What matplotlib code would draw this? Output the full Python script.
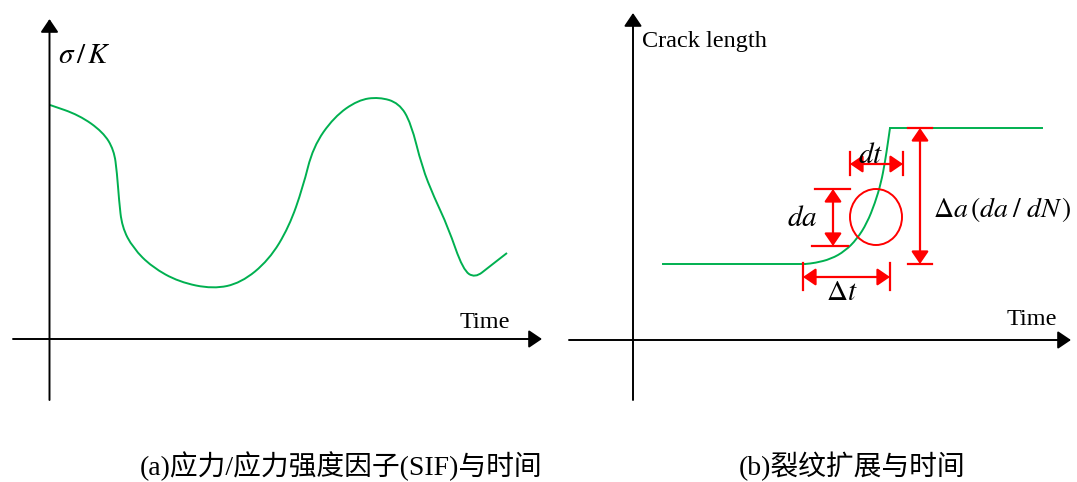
import numpy as np
import matplotlib
matplotlib.use("Agg")
import matplotlib.pyplot as plt
from matplotlib.path import Path
from matplotlib.patches import PathPatch, Ellipse

plt.rcParams['mathtext.fontset'] = 'stix'

# ---------------- data ----------------
# panel (a): stress / SIF vs time (schematic)
time_a = [0.5, 29.5, 53.5, 64.5, 67.5, 69.5, 72.5, 83.5, 102.5, 129.5, 163.5, 191.5,
          219.5, 239.5, 253.5, 263.5, 284.5, 308.5, 329.5, 349.5, 361.5, 372.5, 384.5,
          398.5, 413.5, 425.5, 439.5, 457.5]
sigma_a = [234, 224, 207, 189, 166, 139, 112, 91, 72, 57, 50, 56,
           79, 112, 152, 192, 222, 239, 242, 236, 216, 172, 142,
           112, 69, 61, 72, 86]

# panel (b): crack length vs time (schematic)
low_time = [30, 172]
low_len = 76
rise_time = [172, 182, 198, 212, 224, 234, 242, 248, 252, 255, 257]
rise_len = [76, 77, 81, 89, 101, 117, 137, 157, 178, 198, 212]
high_time = [257, 409]
high_len = 212

# annotation markers in panel (b)
dt_span = [217, 270]
dt_level = 176
da_span = [94, 151]
da_pos = 200
Dt_span = [170, 257]
Dt_level = 63
Da_span = [76, 212]
Da_pos = 287
circle_center = (243, 123)

captions = ["(a)应力/应力强度因子(SIF)与时间", "(b)裂纹扩展与时间"]

GREEN = "#00B050"
RED = "#FF0000"

fig = plt.figure(figsize=(10.77, 4.82), dpi=100)
fig.patch.set_facecolor("white")

ax_a = fig.add_axes([0, 62 / 482, 545 / 1077, 420 / 482])
ax_a.set_xlim(-49.5, 495.5)
ax_a.set_ylim(-81, 339)
ax_b = fig.add_axes([560 / 1077, 62 / 482, 517 / 1077, 420 / 482])
ax_b.set_xlim(-73, 444)
ax_b.set_ylim(-80, 340)
for ax in (ax_a, ax_b):
    ax.axis("off")


def smooth_curve(ax, xs, ys, **kw):
    pts = np.column_stack([xs, ys]).astype(float)
    verts = [pts[0], (pts[0] + pts[1]) / 2]
    codes = [Path.MOVETO, Path.LINETO]
    for i in range(1, len(pts) - 1):
        verts += [pts[i], (pts[i] + pts[i + 1]) / 2]
        codes += [Path.CURVE3, Path.CURVE3]
    verts.append(pts[-1])
    codes.append(Path.LINETO)
    ax.add_patch(PathPatch(Path(verts, codes), fill=False, **kw))


def axis_arrow(ax, start, end):
    ax.annotate("", xy=end, xytext=start,
                arrowprops=dict(arrowstyle="-|>,head_length=0.4,head_width=0.27",
                                mutation_scale=20, color="black", lw=1.4,
                                shrinkA=0, shrinkB=0), annotation_clip=False)


def red_arrow(ax, start, end):
    ax.annotate("", xy=end, xytext=start,
                arrowprops=dict(arrowstyle="<|-|>,head_length=0.38,head_width=0.26",
                                mutation_scale=20, color=RED, lw=1.6,
                                shrinkA=0, shrinkB=0), annotation_clip=False)


# ---------------- panel (a) ----------------
axis_arrow(ax_a, (-36.5, 0), (492.5, 0))
axis_arrow(ax_a, (0, -61), (0, 320))
smooth_curve(ax_a, time_a, sigma_a, edgecolor=GREEN, lw=1.4)
ax_a.text(8.5, 276, r"$\sigma\,/\,K$", fontsize=21, ha="left", va="baseline")
ax_a.text(435.5, 11, "Time", family="Liberation Serif", fontsize=17.5,
          ha="center", va="baseline")

# ---------------- panel (b) ----------------
axis_arrow(ax_b, (-64, 0), (438, 0))
axis_arrow(ax_b, (0, -60), (0, 327))
ax_b.plot(low_time, [low_len, low_len], color=GREEN, lw=1.4)
smooth_curve(ax_b, rise_time, rise_len, edgecolor=GREEN, lw=1.4)
ax_b.plot(high_time, [high_len, high_len], color=GREEN, lw=1.4)
ax_b.text(9, 293, "Crack length", family="Liberation Serif", fontsize=17.5,
          ha="left", va="baseline")
ax_b.text(399, 15, "Time", family="Liberation Serif", fontsize=17.5,
          ha="center", va="baseline")

# circle
ax_b.add_patch(Ellipse(circle_center, 52, 56, fill=False, edgecolor=RED, lw=1.4))

# Delta a bracket
for y in Da_span:
    ax_b.plot([Da_pos - 12, Da_pos + 12], [y, y], color=RED, lw=1.6)
red_arrow(ax_b, (Da_pos, Da_span[0]), (Da_pos, Da_span[1]))
ax_b.text(300, 131, r"$\Delta a\,(da\;/\;dN\,)$", fontsize=20, ha="left", va="center")

# da bracket
ax_b.plot([da_pos - 18, da_pos + 17], [da_span[1], da_span[1]], color=RED, lw=1.6)
ax_b.plot([da_pos - 21, da_pos + 15], [da_span[0], da_span[0]], color=RED, lw=1.6)
red_arrow(ax_b, (da_pos, da_span[0]), (da_pos, da_span[1]))
ax_b.text(169, 122, r"$da$", fontsize=21, ha="center", va="center")

# dt bracket
for x in dt_span:
    ax_b.plot([x, x], [dt_level - 11, dt_level + 12], color=RED, lw=1.6)
red_arrow(ax_b, (dt_span[0], dt_level), (dt_span[1], dt_level))
ax_b.text(238, 177, r"$dt$", fontsize=21, ha="center", va="baseline")

# Delta t bracket
for x in Dt_span:
    ax_b.plot([x, x], [Dt_level - 13, Dt_level + 14], color=RED, lw=1.6)
red_arrow(ax_b, (Dt_span[0], Dt_level), (Dt_span[1], Dt_level))
ax_b.text(209, 48, r"$\Delta t$", fontsize=21, ha="center", va="center")

# ---------------- captions ----------------
cap_family = ["Liberation Serif", "Noto Sans CJK SC"]
fig.text(341.5 / 1077, (482 - 475) / 482, captions[0], family=cap_family,
         fontsize=20, ha="center", va="baseline")
fig.text(852 / 1077, (482 - 475) / 482, captions[1], family=cap_family,
         fontsize=20, ha="center", va="baseline")

fig.savefig("out.png", dpi=100, facecolor="white")
